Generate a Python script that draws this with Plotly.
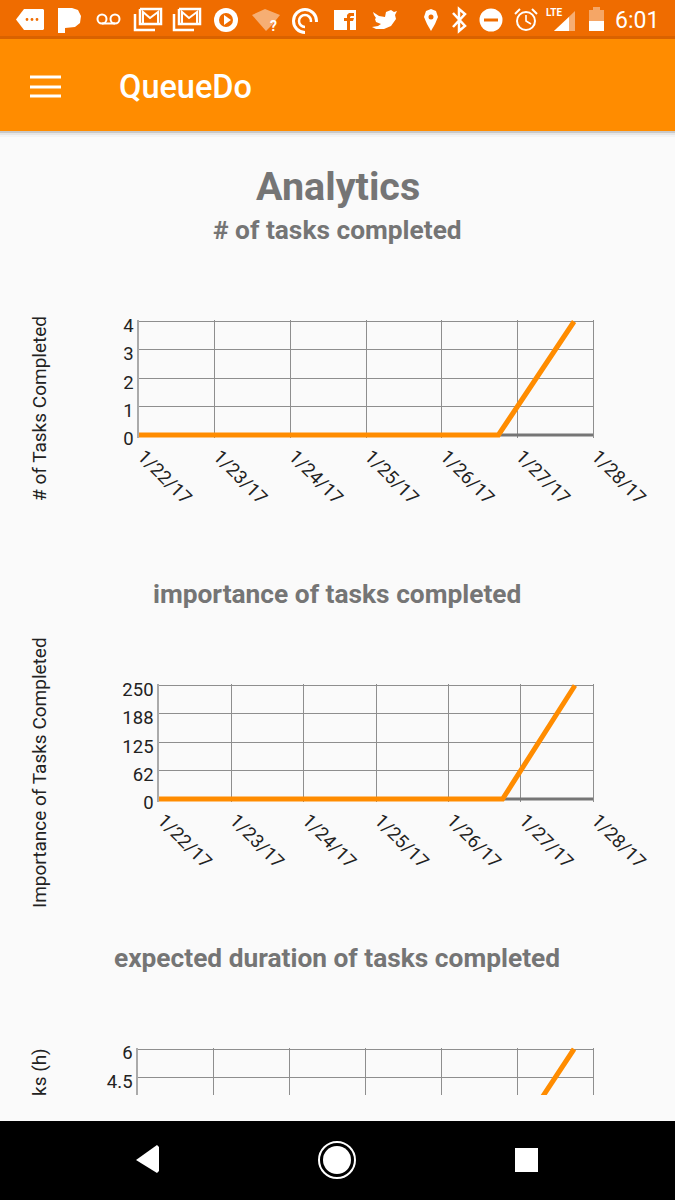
from datetime import datetime, timedelta

import plotly.graph_objects as go

# ---------- data ----------
rise_dates = ["2017-01-22 00:00", "2017-01-26 18:00", "2017-01-27 18:00"]
baseline_dates = ["2017-01-22 00:00", "2017-01-28 00:00"]
baseline_values = [0, 0]
tick_dates = ["2017-01-22", "2017-01-23", "2017-01-24", "2017-01-25", "2017-01-26", "2017-01-27", "2017-01-28"]
tick_labels = ["1/22/17", "1/23/17", "1/24/17", "1/25/17", "1/26/17", "1/27/17", "1/28/17"]

tasks_completed = [0, 0, 4]
tasks_ticks = [0, 1, 2, 3, 4]
importance_completed = [0, 0, 250]
importance_ticks = [0, 62.5, 125, 187.5, 250]
importance_labels = ["0", "62", "125", "188", "250"]
duration_completed = [0, 0, 6]
duration_ticks = [4.5, 6]
duration_labels = ["4.5", "6"]

W, H = 675, 1200
ORANGE = "#FF8C00"
BAR_DARK = "#EF6C00"
BG = "#FAFAFA"
HEAD = "#757575"
TXT = "#222222"
GRID = "#8E8E8E"
WHITE = "#FFFFFF"


def px(x):
    return x / W


def py(y):
    return 1 - y / H


def path(points, close=True):
    s = "M" + " L".join(f"{px(x):.5f},{py(y):.5f}" for x, y in points)
    return s + (" Z" if close else "")


shapes = []


def rect(x0, y0, x1, y1, fill=WHITE, opacity=1):
    shapes.append(dict(type="rect", xref="paper", yref="paper", x0=px(x0), x1=px(x1), y0=py(y0), y1=py(y1),
                       fillcolor=fill, opacity=opacity, line_width=0, layer="above"))


def circle(cx, cy, r, fill=WHITE, stroke=None, sw=0, opacity=1, ry=None):
    ry = ry or r
    shapes.append(dict(type="circle", xref="paper", yref="paper", x0=px(cx - r), x1=px(cx + r), y0=py(cy + ry), y1=py(cy - ry),
                       fillcolor=fill, opacity=opacity, line=dict(color=stroke or "rgba(0,0,0,0)", width=sw), layer="above"))


def poly(points, fill=WHITE, opacity=1):
    shapes.append(dict(type="path", xref="paper", yref="paper", path=path(points), fillcolor=fill, opacity=opacity,
                       line_width=0, layer="above"))


def stroke(points, width=2, color=WHITE):
    shapes.append(dict(type="path", xref="paper", yref="paper", path=path(points, close=False),
                       line=dict(color=color, width=width), layer="above"))


# app chrome
rect(0, 0, W, 37, BAR_DARK)
rect(0, 36, W, 39, "#D96200")
rect(0, 39, W, 131, ORANGE)
rect(0, 131, W, 133, "#BDBDBD", 0.8)
rect(0, 133, W, 135, "#DDDDDD", 0.7)
rect(0, 135, W, 137, "#F0F0F0", 0.7)
rect(0, 1121, W, 1200, "#000000")

# hamburger
for yy in (77, 87, 96):
    rect(30, yy - 1.5, 61, yy + 1.5, WHITE)

# nav bar icons
poly([(136, 1160), (157, 1145), (159, 1147), (159, 1171), (157, 1173)])
circle(337, 1160, 18, fill="rgba(0,0,0,0)", stroke=WHITE, sw=2)
circle(337, 1160, 14)
rect(515, 1148, 538, 1172)

# status icons
poly([(16, 19.5), (24, 9), (43, 9), (44, 10), (44, 29), (43, 30), (24, 30)])
for xx in (27, 32, 37):
    circle(xx, 19.5, 1.4, fill=BAR_DARK)
poly([(58, 8), (72, 8), (78, 10), (81, 16), (80, 23), (75, 27), (65, 28), (65, 33), (58, 33)])
circle(102, 19, 4.5, fill="rgba(0,0,0,0)", stroke=WHITE, sw=2)
circle(115, 19, 4.5, fill="rgba(0,0,0,0)", stroke=WHITE, sw=2)
stroke([(102, 23.5), (115, 23.5)])
for x0 in (134, 173):
    stroke([(x0 + 6, 9), (x0 + 27, 9), (x0 + 27, 24), (x0 + 6, 24), (x0 + 6, 9)], 2.5)
    stroke([(x0 + 1, 14), (x0 + 1, 30), (x0 + 21, 30)], 2.5)
    stroke([(x0 + 9, 23), (x0 + 9, 12), (x0 + 16, 18), (x0 + 24, 12), (x0 + 24, 23)], 2)
circle(226, 20, 12)
circle(226, 20, 7, fill=BAR_DARK)
poly([(224, 15), (231, 20), (224, 25)])
poly([(252, 15), (265, 9), (280, 15), (272, 25), (266, 31)], opacity=0.45)
circle(305, 21, 11.5, fill="rgba(0,0,0,0)", stroke=WHITE, sw=3)
circle(305, 21, 6, fill="rgba(0,0,0,0)", stroke=WHITE, sw=2.5)
rect(305, 22, 320, 35, BAR_DARK)
rect(334, 10, 356, 30)
poly([(347, 30), (347, 21), (344, 21), (344, 18), (347, 18), (347, 15), (349, 13), (354, 13), (354, 16), (351, 16),
      (350, 17), (350, 18), (354, 18), (353, 21), (350, 21), (350, 30)], fill=BAR_DARK)
poly([(373, 12), (379, 16), (385, 17), (386, 12), (391, 10), (394, 12), (397, 11), (395, 15), (396, 19), (391, 26),
      (384, 29), (376, 29), (372, 27), (378, 26), (381, 24), (376, 22), (375, 19), (376, 18), (374, 15)])
poly([(424, 17), (426, 11), (431, 9), (436, 11), (438, 17), (435, 24), (431, 31), (427, 24)])
circle(431, 17, 2.5, fill=BAR_DARK)
stroke([(453, 13), (465, 26), (459, 31), (459, 9), (465, 14), (453, 27)], 2.5)
circle(491, 20, 11.5)
rect(484, 18.5, 498, 21.5, BAR_DARK)
circle(526, 21, 9, fill="rgba(0,0,0,0)", stroke=WHITE, sw=2)
stroke([(526, 15), (526, 21), (531, 24)], 1.6)
stroke([(515, 14), (520, 9)], 2)
stroke([(532, 9), (537, 14)], 2)
poly([(554, 31), (575, 11), (575, 31)], opacity=0.45)
poly([(554, 31), (569, 17), (569, 31)])
rect(589, 10, 604, 21, WHITE, 0.4)
rect(593, 7, 600, 10, WHITE, 0.4)
rect(589, 21, 604, 31, WHITE)

# ---------- figure ----------
fig = go.Figure()
TOP_PAD = 1.4      # px of room past the last gridline so it is still drawn
BOTTOM_PAD = 3.0   # px of room below zero so the thick line is not cut in half
RIGHT = 593


def add_chart(n, values, left, top, bottom, ymin, ymax, tickvals, ticktext, bottom_pad=BOTTOM_PAD, show_x_labels=True):
    xa = "x" if n == 1 else f"x{n}"
    ya = "y" if n == 1 else f"y{n}"
    fig.add_trace(go.Scatter(x=baseline_dates, y=baseline_values, mode="lines", xaxis=xa, yaxis=ya,
                             line=dict(color="#757575", width=3), hoverinfo="skip"))
    fig.add_trace(go.Scatter(x=rise_dates, y=values, mode="lines", xaxis=xa, yaxis=ya,
                             line=dict(color=ORANGE, width=5)))
    units_per_px = (ymax - ymin) / (bottom - top)
    days_per_px = (len(tick_dates) - 1) / (RIGHT - left)
    x_end = datetime.fromisoformat(tick_dates[-1]) + timedelta(days=TOP_PAD * days_per_px)
    xkey = "xaxis" if n == 1 else f"xaxis{n}"
    ykey = "yaxis" if n == 1 else f"yaxis{n}"
    fig.update_layout({
        xkey: dict(domain=[px(left), px(RIGHT + TOP_PAD)], anchor=ya, type="date", automargin=False,
                   range=[tick_dates[0], x_end.isoformat()],
                   tickmode="array", tickvals=tick_dates, ticktext=tick_labels if show_x_labels else [""] * 7,
                   tickangle=45, ticks="", showgrid=True, gridcolor=GRID, gridwidth=1, zeroline=False,
                   showline=False, ticklabelshift=4, ticklabelstandoff=3,
                   tickfont=dict(family="Roboto", size=18.5, color=TXT)),
        ykey: dict(domain=[py(bottom + bottom_pad), py(top - TOP_PAD)], anchor=xa, automargin=False,
                   range=[ymin - bottom_pad * units_per_px, ymax + TOP_PAD * units_per_px],
                   tickmode="array", tickvals=tickvals, ticktext=ticktext, ticks="",
                   showgrid=True, gridcolor=GRID, gridwidth=1, zeroline=False,
                   showline=True, linecolor="#AAAAAA", linewidth=1.5, ticklabelshift=4,
                   tickfont=dict(family="Roboto", size=18.5, color=TXT)),
    })


add_chart(1, tasks_completed, 139, 321.5, 435, 0, 4, tasks_ticks, [str(v) for v in tasks_ticks])
add_chart(2, importance_completed, 159, 685.5, 799, 0, 250, importance_ticks, importance_labels)
add_chart(3, duration_completed, 138, 1049, 1095, 3.6, 6, duration_ticks, duration_labels, bottom_pad=0, show_x_labels=False)


def label(text, x, y, size, color=TXT, bold=False, angle=0, anchor="center", weight=None):
    font = dict(family="Roboto", size=size, color=color)
    if weight:
        font["weight"] = weight
    return dict(text=f"<b>{text}</b>" if bold else text, x=px(x), y=py(y), xref="paper", yref="paper", showarrow=False,
                xanchor=anchor, yanchor="middle", textangle=angle, font=font)


annotations = [
    label("QueueDo", 117, 87.5, 32.5, WHITE, anchor="left", weight=500),
    label("Analytics", 338, 186, 39.5, HEAD, True),
    label("# of tasks completed", 337, 229.5, 26.3, HEAD, True),
    label("importance of tasks completed", 337, 593.5, 26.3, HEAD, True),
    label("expected duration of tasks completed", 337, 957.5, 26.3, HEAD, True),
    label("# of Tasks Completed", 39, 409, 19, angle=-90),
    label("Importance of Tasks Completed", 39, 773, 19, angle=-90),
    label("ks (h)", 39, 1072, 19, angle=-90),
    label("6:01", 637, 21, 23, WHITE),
    label("LTE", 554, 12, 10, WHITE, True),
    label("?", 273, 26, 14, WHITE, True),
]

fig.update_layout(width=W, height=H, autosize=False, margin=dict(l=0, r=0, t=0, b=0, pad=0),
                  paper_bgcolor=BG, plot_bgcolor=BG, showlegend=False,
                  shapes=shapes, annotations=annotations)

fig.write_html("out.html", config=dict(displayModeBar=False),
               post_script="document.body.style.margin='0';document.documentElement.style.overflow='hidden';")
